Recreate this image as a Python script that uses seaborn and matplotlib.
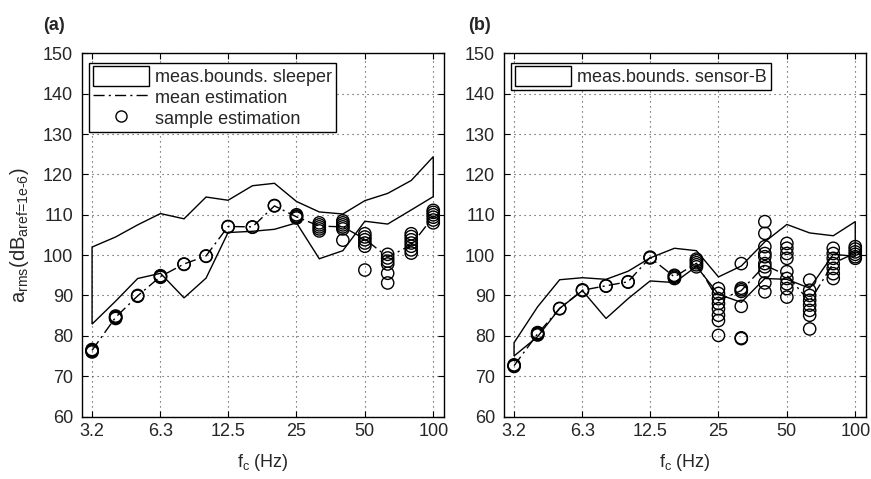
import matplotlib
matplotlib.use("Agg")
import matplotlib.pyplot as plt
from matplotlib.patches import Patch
from matplotlib.lines import Line2D
import seaborn as sns
import pandas as pd

sns.set_style("ticks")
plt.rcParams['font.family'] = ['Liberation Sans', 'DejaVu Sans']
plt.rcParams['mathtext.fontset'] = 'custom'
plt.rcParams['mathtext.rm'] = 'Liberation Sans'
plt.rcParams['mathtext.it'] = 'Liberation Sans'

# ---------------- data ----------------
freqs = [3.15, 4, 5, 6.3, 8, 10, 12.5, 16, 20, 25, 31.5, 40, 50, 63, 80, 100]
tick_vals = [3.15, 6.3, 12.5, 25, 50, 100]
tick_labels = ['3.2', '6.3', '12.5', '25', '50', '100']

upper_a = [102.0, 104.5, 107.5, 110.3, 109.0, 114.4, 113.6, 117.2, 117.8, 113.3,
           110.7, 110.2, 113.5, 115.3, 118.5, 124.4]
lower_a = [82.9, 88.6, 94.2, 95.5, 89.4, 94.3, 105.6, 105.9, 106.4, 108.0,
           99.1, 101.1, 108.4, 107.7, 111.2, 114.5]
mean_a = [76.4, 84.6, 89.9, 94.7, 97.8, 99.8, 107.1, 107.0, 112.2, 109.5,
          107.2, 107.0, 104.0, 99.5, 102.5, 109.5]
samples_a = [
    [76.0, 76.2, 76.4, 76.6],
    [84.3, 84.5, 84.7, 84.9],
    [89.8, 90.0],
    [94.5, 94.7, 94.9],
    [97.7, 97.8],
    [99.7, 99.8],
    [107.0, 107.1],
    [106.9, 107.0],
    [112.2, 112.3],
    [109.2, 109.5, 109.7, 110.0],
    [106.0, 106.5, 107.0, 107.5, 108.0],
    [103.7, 106.5, 107.0, 107.5, 108.0, 108.5],
    [96.3, 102.2, 103.0, 103.8, 104.5, 105.3],
    [93.1, 95.5, 97.8, 98.5, 99.3, 100.2],
    [100.5, 101.3, 102.2, 103.0, 103.8, 104.6, 105.3],
    [108.0, 108.7, 109.4, 110.0, 110.6, 111.1],
]

upper_b = [78.3, 87.2, 93.9, 94.4, 94.0, 96.0, 99.3, 101.7, 101.1, 94.6,
           97.3, 103.3, 107.6, 105.5, 104.8, 108.3]
lower_b = [75.0, 79.8, 86.8, 91.2, 84.3, 89.2, 93.6, 93.2, 97.2, 90.3,
           88.3, 94.2, 94.0, 91.8, 100.2, 99.7]
mean_b = [72.6, 80.5, 86.8, 91.3, 92.4, 93.4, 99.4, 94.6, 98.0, 88.8,
          91.2, 97.5, 95.0, 88.5, 98.0, 100.5]
samples_b = [
    [72.4, 72.6, 72.8],
    [80.2, 80.4, 80.6, 80.8],
    [86.7, 86.8],
    [91.2, 91.4],
    [92.3, 92.4],
    [93.3, 93.4],
    [99.3, 99.5],
    [94.2, 94.5, 94.8, 95.0],
    [97.1, 97.6, 98.1, 98.6, 99.0],
    [80.1, 83.8, 85.1, 86.7, 88.0, 89.2, 90.5, 91.7],
    [79.3, 79.5, 87.3, 91.0, 91.4, 91.8, 97.9],
    [90.9, 93.1, 95.9, 97.1, 97.9, 99.6, 100.4, 102.1, 105.4, 108.3],
    [89.6, 91.7, 92.9, 94.2, 95.9, 99.2, 100.4, 101.7, 102.9],
    [81.7, 85.1, 86.3, 87.6, 88.8, 90.0, 91.3, 93.8],
    [94.2, 95.4, 96.7, 97.9, 99.2, 100.4, 101.7],
    [99.2, 99.6, 100.2, 100.8, 101.5, 102.1],
]

legend_a = ['meas.bounds. sleeper', 'mean estimation', 'sample estimation']
legend_b = ['meas.bounds. sensor-B']

# ---------------- style ----------------
FS = 13
DASHDOT = (0, (8, 3, 1.5, 3))

fig = plt.figure(figsize=(8.71, 4.79), dpi=100)
W, H = 871, 479
bottom = (H - 416.5) / H
height = (416.5 - 53.4) / H
ax_a = fig.add_axes([81.5 / W, bottom, 362.5 / W, height])
ax_b = fig.add_axes([503.5 / W, bottom, 362.5 / W, height])


def draw(ax, upper, lower, mean, samples, leg_labels, full_legend):
    ax.set_xscale('log')
    # bounds polygon
    ax.fill(freqs + freqs[::-1], upper + lower[::-1], facecolor='none',
            edgecolor='black', linewidth=1.0, zorder=2)
    # mean estimation
    dfm = pd.DataFrame({'f': freqs, 'v': mean})
    sns.lineplot(data=dfm, x='f', y='v', ax=ax, color='black', linewidth=1.0,
                 linestyle=DASHDOT, estimator=None, sort=False, zorder=3)
    # samples
    xs, ys = [], []
    for f, vals in zip(freqs, samples):
        for v in vals:
            xs.append(f)
            ys.append(v)
    dfs = pd.DataFrame({'f': xs, 'v': ys})
    sns.scatterplot(data=dfs, x='f', y='v', ax=ax, marker='o', s=78,
                    facecolor='none', edgecolor='black', linewidth=1.0, zorder=4)

    ax.set_xlim(2.83, 111.5)
    ax.set_ylim(60, 150)
    ax.set_xticks(tick_vals)
    ax.set_xticklabels(tick_labels)
    ax.minorticks_off()
    ax.set_yticks(range(60, 151, 10))
    ax.tick_params(direction='in', top=True, right=True, length=4, width=0.8,
                   labelsize=FS, color='black')
    ax.tick_params(axis='x', pad=5)
    ax.tick_params(axis='y', pad=6)
    ax.grid(True, color='0.25', linestyle=(0, (1, 3.5)), linewidth=0.8)
    for sp in ax.spines.values():
        sp.set_visible(True)
        sp.set_color('black')
        sp.set_linewidth(1.0)
    ax.set_xlabel(r'$\mathregular{f_c}$ (Hz)', fontsize=FS, labelpad=8)
    ax.set_ylabel('')

    handles = [Patch(facecolor='white', edgecolor='black', linewidth=1.0)]
    if full_legend:
        handles.append(Line2D([], [], color='black', linewidth=1.0, linestyle=DASHDOT))
        handles.append(Line2D([], [], color='black', linestyle='none', marker='o',
                              markersize=8, markerfacecolor='none', markeredgewidth=1.0))
    leg = ax.legend(handles, leg_labels, loc='upper left',
                    bbox_to_anchor=(0.022, 0.974), borderaxespad=0,
                    fontsize=FS, frameon=True, fancybox=False, framealpha=1,
                    edgecolor='black', handlelength=3.1, handleheight=1.3,
                    handletextpad=0.35, labelspacing=0.05, borderpad=0.2)
    leg.get_frame().set_linewidth(1.0)
    leg.set_zorder(10)


draw(ax_a, upper_a, lower_a, mean_a, samples_a, legend_a, True)
draw(ax_b, upper_b, lower_b, mean_b, samples_b, legend_b, False)

ax_a.set_ylabel(r'$\mathregular{a_{rms}(dB_{\text{aref=1e-6}})}$', fontsize=14.5)
ax_a.yaxis.set_label_coords(-0.14, 0.5)

fig.text(43 / W, 1 - 25 / H, '(a)', fontsize=FS, fontweight='bold',
         ha='left', va='center')
fig.text(468 / W, 1 - 25 / H, '(b)', fontsize=FS, fontweight='bold',
         ha='left', va='center')

fig.savefig('out.png', dpi=100, facecolor='white')
